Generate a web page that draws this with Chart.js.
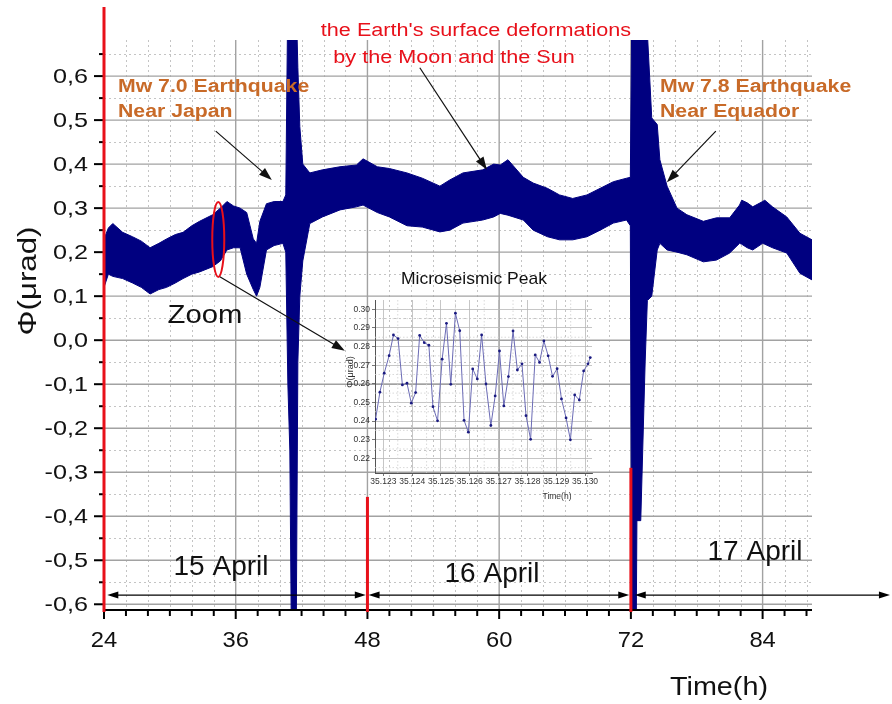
<!DOCTYPE html>
<html>
<head>
<meta charset="utf-8">
<script src="https://cdn.jsdelivr.net/npm/chart.js@4.4.0/dist/chart.umd.min.js"></script>
<style>
html, body { margin: 0; padding: 0; background: #fff; }
#wrap { position: relative; width: 892px; height: 704px; }
#main { position: absolute; left: 0; top: 0; }
#inset { position: absolute; left: 330px; top: 260px; }
</style>
</head>
<body>
<div id="wrap">
  <canvas id="main" width="892" height="704"></canvas>
  <canvas id="inset" width="280" height="250"></canvas>
</div>
<script>
// tilt signal, read as upper / lower edge of the noise band
const hours = [24.0, 24.4, 24.8, 25.7, 26.6, 27.4, 28.2, 29.0, 29.7, 30.5,
  31.2, 32.0, 32.7, 33.9, 34.6, 35.2, 35.8, 36.4, 37.0, 37.6,
  37.9, 38.2, 38.8, 39.5, 40.3, 40.56, 40.75, 40.93, 41.11, 41.48,
  41.66, 41.84, 42.11, 42.75, 43.9, 45.5, 47.0, 47.6, 48.9, 50.0,
  51.6, 53.0, 54.6, 55.5, 56.7, 58.5, 59.5, 60.1, 60.8, 62.2, 63.1,
  64.4, 65.5, 66.7, 68.0, 69.2, 70.4, 71.6, 71.95, 72.1, 72.45,
  72.55, 72.9, 73.3, 73.5, 73.9, 74.4, 74.64, 75.3, 76.2, 77.1,
  78.6, 79.8, 81.0, 81.9, 82.1, 82.6, 83.1, 84.0, 84.2, 84.9, 86.2, 87.4,
  88.5];
const phiUpper = [0.23, 0.255, 0.265, 0.245, 0.235, 0.225, 0.21, 0.22, 0.23, 0.24,
  0.245, 0.26, 0.27, 0.285, 0.30, 0.315, 0.305, 0.30, 0.29, 0.23,
  0.22, 0.27, 0.31, 0.315, 0.315, 0.33, 0.80, 0.80, 0.80, 0.80,
  0.62, 0.485, 0.40, 0.38, 0.387, 0.394, 0.398, 0.412, 0.394, 0.39,
  0.38, 0.368, 0.35, 0.364, 0.38, 0.387, 0.40, 0.398, 0.41, 0.37, 0.357,
  0.345, 0.33, 0.322, 0.33, 0.345, 0.36, 0.368, 0.37, 0.80, 0.80,
  0.80, 0.80, 0.80, 0.70, 0.505, 0.49, 0.41, 0.35, 0.30, 0.285,
  0.27, 0.278, 0.278, 0.307, 0.318, 0.312, 0.303, 0.315, 0.318, 0.303, 0.28, 0.243,
  0.228];
const phiLower = [0.12, 0.15, 0.145, 0.14, 0.13, 0.12, 0.105, 0.115, 0.12, 0.13,
  0.14, 0.15, 0.155, 0.167, 0.18, 0.205, 0.21, 0.21, 0.15, 0.115,
  0.10, 0.12, 0.205, 0.215, 0.22, 0.20, -0.10, -0.25, -0.80, -0.80,
  -0.05, 0.10, 0.18, 0.265, 0.28, 0.296, 0.303, 0.307, 0.29, 0.28,
  0.26, 0.257, 0.246, 0.25, 0.266, 0.273, 0.28, 0.288, 0.284, 0.273, 0.25,
  0.235, 0.228, 0.228, 0.235, 0.25, 0.266, 0.273, 0.26, -0.80, -0.80,
  -0.41, -0.41, -0.05, 0.09, 0.10, 0.205, 0.22, 0.205, 0.20, 0.194,
  0.178, 0.182, 0.198, 0.22, 0.218, 0.21, 0.205, 0.22, 0.218, 0.21, 0.198, 0.152,
  0.137];

const xTicks = [24, 36, 48, 60, 72, 84];
const yTicks = [-0.6, -0.5, -0.4, -0.3, -0.2, -0.1, 0, 0.1, 0.2, 0.3, 0.4, 0.5, 0.6];

// day spans along the bottom
const dayNames = ['15 April', '16 April', '17 April'];
const dayStart = [24.3, 48.1, 72.35];
const dayEnd = [47.85, 71.85, 95.6];
const dayMark = [24, 48, 72];
const dayMarkTop = [0.757, -0.356, -0.29];

// inset: microseismic peak
const insetTime = [35.12273, 35.12288, 35.12303, 35.12320, 35.12335, 35.12351, 35.12366, 35.12382, 35.12397, 35.12412,
  35.12426, 35.12442, 35.12458, 35.12472, 35.12488, 35.12504, 35.12519, 35.12534, 35.12550, 35.12565,
  35.12580, 35.12595, 35.12610, 35.12626, 35.12641, 35.12656, 35.12673, 35.12688, 35.12703, 35.12718,
  35.12734, 35.12750, 35.12765, 35.12781, 35.12795, 35.12811, 35.12827, 35.12842, 35.12857, 35.12872,
  35.12887, 35.12903, 35.12918, 35.12934, 35.12949, 35.12964, 35.12980, 35.12995, 35.13010, 35.13018];
const insetPhi = [0.2410, 0.2555, 0.2657, 0.2751, 0.2862, 0.2843, 0.2594, 0.2603, 0.2496, 0.2553,
  0.2860, 0.2821, 0.2807, 0.2477, 0.2401, 0.2732, 0.2925, 0.2597, 0.2979, 0.2885,
  0.2404, 0.2340, 0.2680, 0.2626, 0.2862, 0.2599, 0.2376, 0.2535, 0.2776, 0.2481,
  0.2639, 0.2884, 0.2674, 0.2707, 0.2429, 0.2302, 0.2755, 0.2715, 0.2830, 0.2750,
  0.2640, 0.2681, 0.2519, 0.2417, 0.2299, 0.2540, 0.2513, 0.2669, 0.2707, 0.2741];
const insetXTicks = [35.123, 35.124, 35.125, 35.126, 35.127, 35.128, 35.129, 35.130];
const insetYTicks = [0.22, 0.23, 0.24, 0.25, 0.26, 0.27, 0.28, 0.29, 0.30];

const FONT = "'Liberation Sans', Arial, sans-serif";
const NAVY = '#000080';
const ORANGE = '#c86a28';
const RED = '#e8101a';

function seg(ctx, x1, y1, x2, y2) {
  ctx.beginPath(); ctx.moveTo(x1, y1); ctx.lineTo(x2, y2); ctx.stroke();
}
function text(ctx, s, x, y, size, color, opt) {
  opt = opt || {};
  ctx.save();
  ctx.translate(x, y);
  if (opt.rot) ctx.rotate(opt.rot);
  ctx.scale(opt.sx || 1, 1);
  ctx.font = (opt.bold ? 'bold ' : '') + size + 'px ' + FONT;
  ctx.fillStyle = color;
  ctx.textAlign = opt.align || 'center';
  ctx.textBaseline = 'middle';
  ctx.fillText(s, 0, 0);
  ctx.restore();
}
function arrow(ctx, x1, y1, x2, y2, len, half) {
  const a = Math.atan2(y2 - y1, x2 - x1), c = Math.cos(a), s = Math.sin(a);
  seg(ctx, x1, y1, x2 - c * len * 0.8, y2 - s * len * 0.8);
  ctx.beginPath();
  ctx.moveTo(x2, y2);
  ctx.lineTo(x2 - c * len + s * half, y2 - s * len - c * half);
  ctx.lineTo(x2 - c * len - s * half, y2 - s * len + c * half);
  ctx.closePath();
  ctx.fill();
}
function comma(v) {
  if (Math.abs(v) < 1e-9) return '0,0';
  return v.toFixed(1).replace('.', ',');
}

const decor = {
  id: 'decor',
  beforeDatasetsDraw(chart) {
    const { ctx, chartArea: a, scales: { x, y } } = chart;
    ctx.save();
    // minor grid
    ctx.strokeStyle = '#c4c4c4';
    ctx.lineWidth = 1;
    ctx.setLineDash([2, 3]);
    for (let h = 26; h <= 88; h += 2) {
      if (h % 12 === 0) continue;
      const p = Math.round(x.getPixelForValue(h)) + 0.5;
      seg(ctx, p, a.top, p, a.bottom);
    }
    for (let k = -11; k <= 13; k += 2) {
      const p = Math.round(y.getPixelForValue(k * 0.05)) + 0.5;
      seg(ctx, a.left, p, a.right, p);
    }
    // major grid
    ctx.setLineDash([]);
    ctx.strokeStyle = '#a2a2a2';
    ctx.lineWidth = 1.4;
    xTicks.forEach(h => { const p = x.getPixelForValue(h); seg(ctx, p, a.top, p, a.bottom); });
    yTicks.forEach(v => { const p = y.getPixelForValue(v); seg(ctx, a.left, p, a.right, p); });
    ctx.restore();
  },
  afterDatasetsDraw(chart) {
    const { ctx, chartArea: a, scales: { x, y } } = chart;
    const X = v => x.getPixelForValue(v), Y = v => y.getPixelForValue(v);
    ctx.save();

    // bottom axis + ticks
    ctx.strokeStyle = '#000';
    ctx.lineWidth = 2;
    seg(ctx, a.left, a.bottom, a.right, a.bottom);
    for (let h = 24; h <= 88; h += 2) {
      const p = X(h);
      seg(ctx, p, a.bottom, p, a.bottom + (h % 12 === 0 ? 9 : 6));
    }
    for (let k = -12; k <= 13; k++) {
      const p = Y(k * 0.05);
      seg(ctx, a.left, p, a.left - (k % 2 === 0 ? 10 : 5), p);
    }

    // tick labels
    yTicks.forEach(v => text(ctx, comma(v), 88, Y(v) + 1, 21, '#111', { align: 'right', sx: 1.2 }));
    xTicks.forEach(h => text(ctx, String(h), X(h), 641, 22, '#111', { sx: 1.08 }));

    // axis titles
    text(ctx, 'Φ(μrad)', 29, 281, 25, '#111', { rot: -Math.PI / 2, sx: 1.25 });
    text(ctx, 'Time(h)', 719, 688, 25, '#111', { sx: 1.15 });

    // day separators
    ctx.strokeStyle = RED;
    ctx.lineWidth = 3;
    dayMark.forEach((h, i) => seg(ctx, X(h), Y(dayMarkTop[i]), X(h), a.bottom + 2));

    // day spans
    ctx.strokeStyle = '#000';
    ctx.fillStyle = '#000';
    ctx.lineWidth = 1.2;
    const dy = Y(-0.579);
    dayNames.forEach((n, i) => {
      const x1 = X(dayStart[i]), x2 = X(dayEnd[i]), m = (x1 + x2) / 2;
      arrow(ctx, m, dy, x1, dy, 11, 3.5);
      arrow(ctx, m, dy, x2, dy, 11, 3.5);
    });
    text(ctx, dayNames[0], 221, 567, 28, '#111');
    text(ctx, dayNames[1], 492, 574, 28, '#111');
    text(ctx, dayNames[2], 755, 552, 28, '#111');

    // zoom ellipse
    ctx.strokeStyle = RED;
    ctx.lineWidth = 2;
    ctx.beginPath();
    ctx.ellipse(X(34.41), Y(0.229), 6, 37.5, 0, 0, Math.PI * 2);
    ctx.stroke();

    // pointers
    ctx.strokeStyle = '#111';
    ctx.fillStyle = '#111';
    ctx.lineWidth = 1.2;
    arrow(ctx, X(34.18), Y(0.475), X(39.29), Y(0.364), 13, 4.5);
    arrow(ctx, X(52.77), Y(0.619), X(58.88), Y(0.387), 13, 4.5);
    arrow(ctx, X(79.74), Y(0.475), X(75.28), Y(0.359), 13, 4.5);
    arrow(ctx, X(34.55), Y(0.144), X(45.94), Y(-0.024), 13, 4.5);

    // labels
    text(ctx, 'Mw 7.0 Earthquake', 118, 87, 18, ORANGE, { bold: true, align: 'left', sx: 1.18 });
    text(ctx, 'Near Japan', 118, 112, 18, ORANGE, { bold: true, align: 'left', sx: 1.18 });
    text(ctx, 'Mw 7.8 Earthquake', 660, 87, 18, ORANGE, { bold: true, align: 'left', sx: 1.18 });
    text(ctx, 'Near Equador', 660, 112, 18, ORANGE, { bold: true, align: 'left', sx: 1.18 });
    text(ctx, "the Earth's surface deformations", 476, 31, 18, RED, { sx: 1.2 });
    text(ctx, 'by the Moon and the Sun', 454, 58, 18, RED, { sx: 1.2 });
    text(ctx, 'Zoom', 205, 316, 25, '#111', { sx: 1.17 });
    text(ctx, 'Microseismic Peak', 474, 279, 17, '#111', { sx: 1.03 });

    ctx.restore();
  }
};

new Chart(document.getElementById('main').getContext('2d'), {
  type: 'line',
  data: {
    datasets: [{
      data: hours.map((h, i) => ({ x: h, y: phiLower[i] })),
      borderColor: NAVY,
      borderWidth: 1,
      pointRadius: 0,
      tension: 0,
      fill: false
    }, {
      data: hours.map((h, i) => ({ x: h, y: phiUpper[i] })),
      borderColor: NAVY,
      backgroundColor: NAVY,
      borderWidth: 1,
      pointRadius: 0,
      tension: 0,
      fill: '-1'
    }]
  },
  options: {
    responsive: false,
    animation: false,
    devicePixelRatio: 1,
    events: [],
    layout: { padding: { left: 0, top: 40, right: 80, bottom: 0 } },
    plugins: { legend: { display: false }, tooltip: { enabled: false } },
    scales: {
      x: {
        type: 'linear', min: 24, max: 88.5,
        ticks: { display: false }, grid: { display: false }, border: { display: false },
        afterFit(s) { s.height = 94; }
      },
      y: {
        min: -0.613, max: 0.682,
        ticks: { display: false }, grid: { display: false }, border: { display: false },
        afterFit(s) { s.width = 104; }
      }
    }
  },
  plugins: [decor]
});

// inset chart
const insetDecor = {
  id: 'insetDecor',
  beforeDatasetsDraw(chart) {
    const { ctx, chartArea: a, scales: { x, y } } = chart;
    ctx.save();
    ctx.strokeStyle = '#cfcfcf';
    ctx.lineWidth = 0.8;
    ctx.setLineDash([1.5, 2]);
    for (let i = 0; i < insetXTicks.length; i++) {
      const p = x.getPixelForValue(insetXTicks[i] + 0.0005);
      if (p < a.right) seg(ctx, p, a.top, p, a.bottom);
      const q = x.getPixelForValue(insetXTicks[i] - 0.0005);
      if (i === 0 && q > a.left) seg(ctx, q, a.top, q, a.bottom);
    }
    for (let i = 0; i < insetYTicks.length; i++) {
      const p = y.getPixelForValue(insetYTicks[i] + 0.005);
      if (p > a.top) seg(ctx, a.left, p, a.right, p);
      const q = y.getPixelForValue(insetYTicks[i] - 0.005);
      if (i === 0 && q < a.bottom) seg(ctx, a.left, q, a.right, q);
    }
    ctx.restore();
  },
  afterDraw(chart) {
    const ctx = chart.ctx;
    text(ctx, 'Φ(μrad)', 21, 112, 9, '#333', { rot: -Math.PI / 2 });
    text(ctx, 'Time(h)', 227, 237, 8.5, '#333');
  }
};

new Chart(document.getElementById('inset').getContext('2d'), {
  type: 'line',
  data: {
    datasets: [{
      data: insetTime.map((t, i) => ({ x: t, y: insetPhi[i] })),
      borderColor: '#6b6bb5',
      borderWidth: 1,
      pointRadius: 1.4,
      pointBackgroundColor: '#1a1a80',
      pointBorderWidth: 0,
      tension: 0
    }]
  },
  options: {
    responsive: false,
    animation: false,
    devicePixelRatio: 1,
    events: [],
    layout: { padding: { left: 0, top: 40, right: 18, bottom: 0 } },
    plugins: { legend: { display: false }, tooltip: { enabled: false } },
    scales: {
      x: {
        type: 'linear', min: 35.12271, max: 35.13024,
        afterBuildTicks(s) { s.ticks = insetXTicks.map(v => ({ value: v })); },
        ticks: { font: { size: 8.5, family: FONT }, color: '#333', padding: 1, maxRotation: 0,
          callback: v => v.toFixed(3) },
        grid: { color: '#b8b8b8', lineWidth: 0.8, tickLength: 3, tickColor: '#555' },
        border: { color: '#555', width: 1 },
        afterFit(s) { s.height = 37; }
      },
      y: {
        min: 0.2121, max: 0.305,
        afterBuildTicks(s) { s.ticks = insetYTicks.map(v => ({ value: v })); },
        ticks: { font: { size: 8.5, family: FONT }, color: '#333', padding: 2,
          callback: v => v.toFixed(2) },
        grid: { color: '#b8b8b8', lineWidth: 0.8, tickLength: 3, tickColor: '#555' },
        border: { color: '#555', width: 1 },
        afterFit(s) { s.width = 45; }
      }
    }
  },
  plugins: [insetDecor]
});
</script>
</body>
</html>
